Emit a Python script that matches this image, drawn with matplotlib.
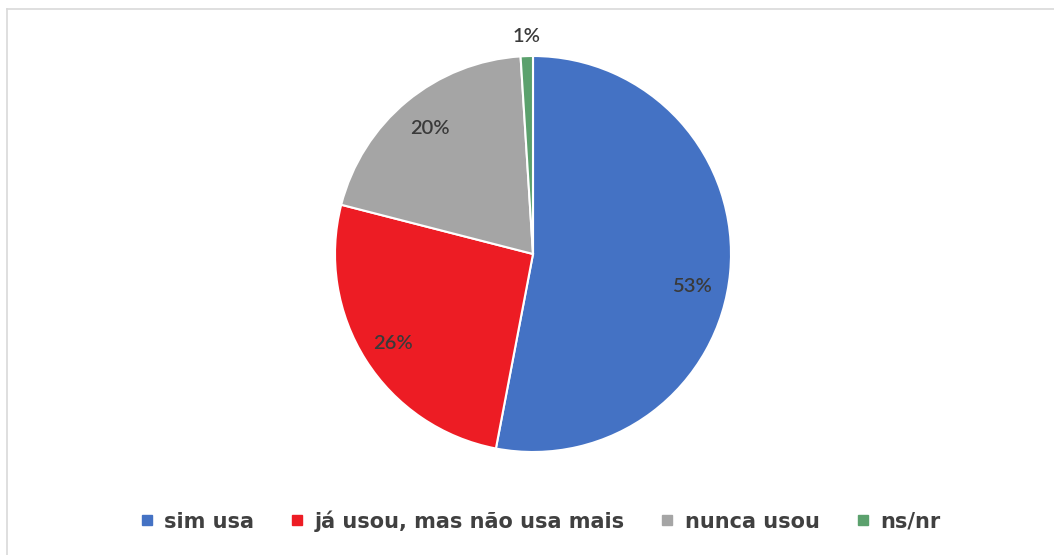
import matplotlib
matplotlib.use("Agg")
import matplotlib.pyplot as plt
from matplotlib.lines import Line2D
import numpy as np

categories = ["sim usa", "já usou, mas não usa mais", "nunca usou", "ns/nr"]
values = [53, 26, 20, 1]
colors = ["#4472C4", "#ED1C24", "#A5A5A5", "#5BA16D"]
label_radius = [0.82, 0.84, 0.82, 1.10]
label_angle_shift = [-6, 0, 0, 0]

plt.rcParams['font.family'] = ['Lato', 'DejaVu Sans']

W, H = 1054, 555
fig = plt.figure(figsize=(W / 100, H / 100), dpi=100)
cx, cy, R = 533, 254, 198
ax = fig.add_axes([(cx - R) / W, (H - cy - R) / H, 2 * R / W, 2 * R / H])

wedges, _ = ax.pie(values, colors=colors, startangle=90, counterclock=False,
                   wedgeprops=dict(edgecolor="white", linewidth=1.5))
ax.set_xlim(-1, 1)
ax.set_ylim(-1, 1)
ax.set_aspect("equal")
ax.axis("off")

for w, v, r, sh in zip(wedges, values, label_radius, label_angle_shift):
    ang = np.deg2rad((w.theta1 + w.theta2) / 2 + sh)
    ax.text(r * np.cos(ang), r * np.sin(ang), f"{v}%", ha="center", va="center",
            fontsize=14.5, fontweight="semibold", color="#3A3A3A",
            family=["Lato", "DejaVu Sans"])

handles = [Line2D([], [], marker="s", linestyle="none", markersize=7.2,
                  markerfacecolor=c, markeredgecolor=c) for c in colors]
fig.legend(handles, categories, loc="center", bbox_to_anchor=(541 / W, 1 - 521 / H),
           ncol=4, frameon=False, handlelength=0.5, handletextpad=0.6,
           columnspacing=1.8, labelcolor="#404040",
           prop=dict(family=["DejaVu Sans"], weight="bold", size=15))

# chart border
fig.add_artist(Line2D([7 / W, 1], [1 - 9 / H, 1 - 9 / H], transform=fig.transFigure,
                      color="#D9D9D9", linewidth=1.2))
fig.add_artist(Line2D([7 / W, 7 / W], [0, 1 - 9 / H], transform=fig.transFigure,
                      color="#D9D9D9", linewidth=1.2))

fig.savefig("out.png", dpi=100, facecolor="white")
